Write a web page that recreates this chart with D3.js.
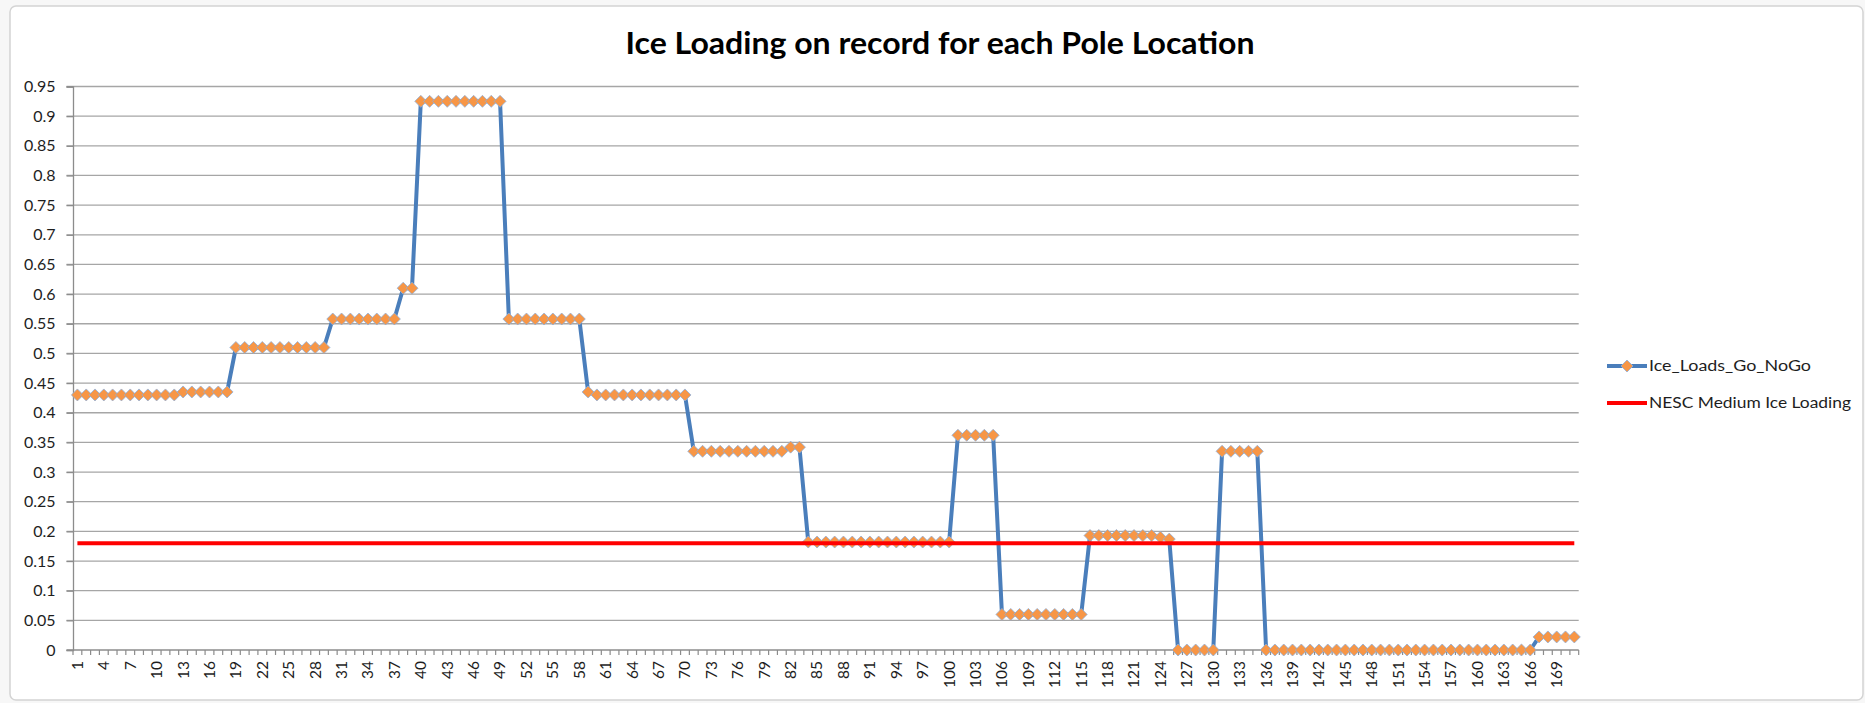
<!DOCTYPE html>
<html>
<head>
<meta charset="utf-8">
<script src="https://cdn.jsdelivr.net/npm/d3@7"></script>
<style>
  body { margin: 0; background: #fff; }
  svg { display: block; }
  text { font-family: Lato, 'Open Sans', sans-serif; fill: #1e1e1e; }
</style>
</head>
<body>
<svg class="chart" width="1865" height="703"></svg>
<script>
// ice load per pole location (poles 1..171)
const iceLoads = [
  0.43, 0.43, 0.43, 0.43, 0.43, 0.43, 0.43, 0.43, 0.43, 0.43,
  0.43, 0.43, 0.435, 0.435, 0.435, 0.435, 0.435, 0.435, 0.51, 0.51,
  0.51, 0.51, 0.51, 0.51, 0.51, 0.51, 0.51, 0.51, 0.51, 0.558,
  0.558, 0.558, 0.558, 0.558, 0.558, 0.558, 0.558, 0.61, 0.61, 0.925,
  0.925, 0.925, 0.925, 0.925, 0.925, 0.925, 0.925, 0.925, 0.925, 0.558,
  0.558, 0.558, 0.558, 0.558, 0.558, 0.558, 0.558, 0.558, 0.435, 0.43,
  0.43, 0.43, 0.43, 0.43, 0.43, 0.43, 0.43, 0.43, 0.43, 0.43,
  0.335, 0.335, 0.335, 0.335, 0.335, 0.335, 0.335, 0.335, 0.335, 0.335,
  0.335, 0.342, 0.342, 0.182, 0.182, 0.182, 0.182, 0.182, 0.182, 0.182,
  0.182, 0.182, 0.182, 0.182, 0.182, 0.182, 0.182, 0.182, 0.182, 0.182,
  0.362, 0.362, 0.362, 0.362, 0.362, 0.06, 0.06, 0.06, 0.06, 0.06,
  0.06, 0.06, 0.06, 0.06, 0.06, 0.193, 0.193, 0.193, 0.193, 0.193,
  0.193, 0.193, 0.193, 0.19, 0.187, 0, 0, 0, 0, 0,
  0.335, 0.335, 0.335, 0.335, 0.335, 0, 0, 0, 0, 0,
  0, 0, 0, 0, 0, 0, 0, 0, 0, 0,
  0, 0, 0, 0, 0, 0, 0, 0, 0, 0,
  0, 0, 0, 0, 0, 0, 0.022, 0.022, 0.022, 0.022,
  0.022
];
const nescLevel = 0.18;
const yTicks = [0, 0.05, 0.1, 0.15, 0.2, 0.25, 0.3, 0.35, 0.4, 0.45, 0.5,
                0.55, 0.6, 0.65, 0.7, 0.75, 0.8, 0.85, 0.9, 0.95];
const yTickLabels = ['0', '0.05', '0.1', '0.15', '0.2', '0.25', '0.3', '0.35', '0.4', '0.45', '0.5',
                     '0.55', '0.6', '0.65', '0.7', '0.75', '0.8', '0.85', '0.9', '0.95'];
const seriesNames = ['Ice_Loads_Go_NoGo', 'NESC Medium Ice Loading'];
const chartTitle = 'Ice Loading on record for each Pole Location';
const poles = d3.range(1, iceLoads.length + 1);

const svg = d3.select('.chart');
const plotLeft = 73, plotRight = 1578.7, plotTop = 86.5, plotBottom = 650;
const blue = '#4a7ebb', orange = '#f79646', red = '#ff0000', grid = '#a6a6a6';

// spreadsheet behind the chart + chart frame
svg.append('rect').attr('x', 0).attr('y', 0).attr('width', 1865).attr('height', 703).attr('fill', '#f7f7f7');
svg.append('rect')
    .attr('x', 10).attr('y', 6).attr('width', 1853).attr('height', 694).attr('rx', 6)
    .attr('fill', '#fff').attr('stroke', '#d4d4d4').attr('stroke-width', 1.5);

const x = d3.scaleBand().domain(poles).range([plotLeft, plotRight]).padding(0);
const y = d3.scaleLinear().domain([0, 0.95]).range([plotBottom, plotTop]);
const cx = p => x(p) + x.bandwidth() / 2;

// title
svg.append('text')
    .attr('x', 940).attr('y', 54)
    .attr('text-anchor', 'middle')
    .attr('font-size', 30).attr('font-weight', 'bold')
    .attr('textLength', 629).attr('lengthAdjust', 'spacingAndGlyphs')
    .style('fill', '#000')
    .text(chartTitle);

// horizontal gridlines
svg.append('g').selectAll('line').data(yTicks.slice(1))
    .enter().append('line')
    .attr('x1', plotLeft - 6.5).attr('x2', plotRight)
    .attr('y1', d => y(d)).attr('y2', d => y(d))
    .attr('stroke', grid).attr('stroke-width', 1.3);

// y axis
const yAxis = svg.append('g')
    .attr('transform', `translate(${plotLeft},0)`)
    .call(d3.axisLeft(y).tickValues(yTicks).tickFormat((d, i) => yTickLabels[i]).tickSize(6.5).tickPadding(11));
yAxis.select('.domain').attr('stroke', '#8c8c8c').attr('stroke-width', 1.3);
yAxis.selectAll('.tick line').attr('stroke', '#8c8c8c').attr('stroke-width', 1.3);
yAxis.selectAll('.tick text').attr('font-size', 16).attr('font-family', 'Lato, sans-serif').style('fill', '#1e1e1e');

// x axis line and category tick marks
svg.append('line')
    .attr('x1', plotLeft - 6.5).attr('x2', plotRight)
    .attr('y1', plotBottom).attr('y2', plotBottom)
    .attr('stroke', '#8c8c8c').attr('stroke-width', 1.3);
svg.append('g').selectAll('line').data(poles.concat([poles.length + 1]))
    .enter().append('line')
    .attr('x1', d => plotLeft + (d - 1) * x.step()).attr('x2', d => plotLeft + (d - 1) * x.step())
    .attr('y1', plotBottom).attr('y2', plotBottom + 5)
    .attr('stroke', '#8c8c8c').attr('stroke-width', 1.2);

// rotated category labels, every third pole
svg.append('g').selectAll('text').data(poles.filter(p => (p - 1) % 3 === 0))
    .enter().append('text')
    .attr('transform', d => `translate(${cx(d)},${plotBottom + 11}) rotate(-90)`)
    .attr('text-anchor', 'end')
    .attr('dy', '0.35em')
    .attr('font-size', 15.5)
    .text(d => d);

// ice load series
const line = d3.line().x((d, i) => cx(poles[i])).y(d => y(d));
svg.append('path')
    .datum(iceLoads)
    .attr('d', line)
    .attr('fill', 'none')
    .attr('stroke', blue).attr('stroke-width', 4)
    .attr('stroke-linejoin', 'round');

const diamond = 'M0,-6L6,0L0,6L-6,0Z';
svg.append('g').selectAll('path').data(iceLoads)
    .enter().append('path')
    .attr('d', diamond)
    .attr('transform', (d, i) => `translate(${cx(poles[i])},${y(d)})`)
    .attr('fill', orange)
    .attr('stroke', '#8fb0da').attr('stroke-width', 0.8);

// NESC medium ice loading level
svg.append('line')
    .attr('x1', cx(poles[0])).attr('x2', cx(poles[poles.length - 1]))
    .attr('y1', y(nescLevel)).attr('y2', y(nescLevel))
    .attr('stroke', red).attr('stroke-width', 4);

// legend
const legend = svg.append('g').attr('transform', 'translate(1607,0)');
legend.append('line').attr('x1', 0).attr('x2', 40).attr('y1', 366).attr('y2', 366)
    .attr('stroke', blue).attr('stroke-width', 4);
legend.append('path').attr('d', diamond).attr('transform', 'translate(20,366)')
    .attr('fill', orange).attr('stroke', '#8fb0da').attr('stroke-width', 0.8);
legend.append('line').attr('x1', 0).attr('x2', 40).attr('y1', 403).attr('y2', 403)
    .attr('stroke', red).attr('stroke-width', 4);
legend.selectAll('text').data(seriesNames)
    .enter().append('text')
    .attr('x', 42).attr('y', (d, i) => 366 + i * 37)
    .attr('dy', '0.35em')
    .attr('font-size', 15.5)
    .attr('textLength', (d, i) => i === 0 ? 162 : 202)
    .attr('lengthAdjust', 'spacingAndGlyphs')
    .text(d => d);
</script>
</body>
</html>
